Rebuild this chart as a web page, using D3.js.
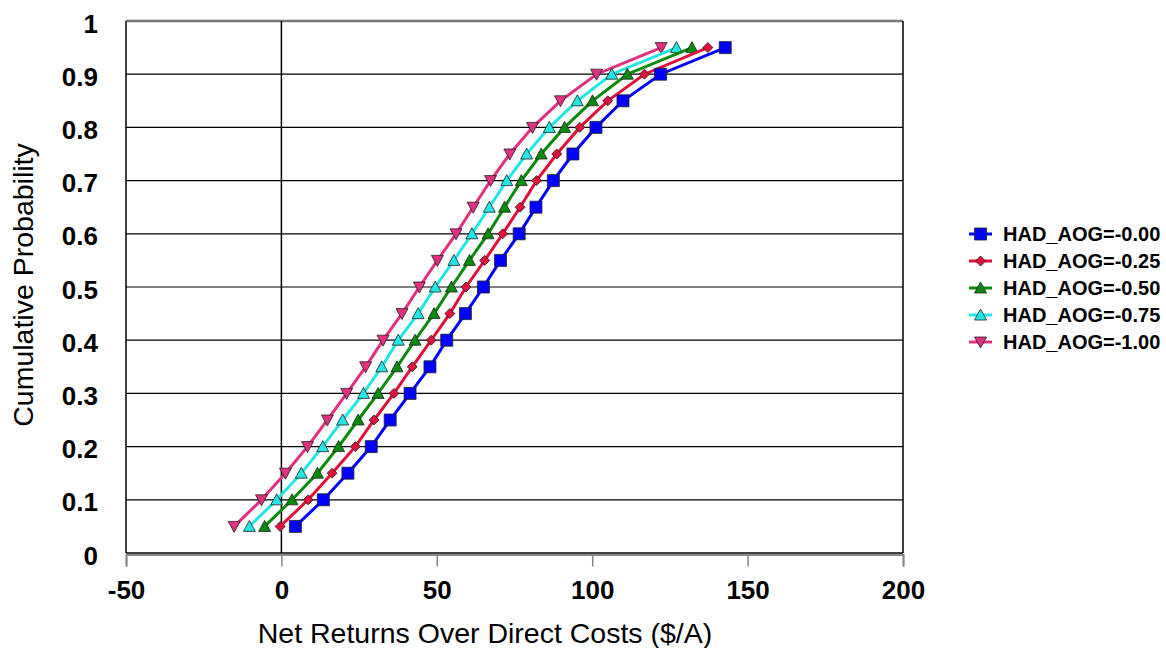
<!DOCTYPE html>
<html>
<head>
<meta charset="utf-8">
<script src="https://cdn.jsdelivr.net/npm/d3@7"></script>
<style>
	body { margin: 0; background: #fff; }
	text { font-family: "Liberation Sans", Arial, sans-serif; }
</style>
</head>
<body>
<div id="chart"></div>
<script>
var probs = [0.05, 0.10, 0.15, 0.20, 0.25, 0.30, 0.35, 0.40, 0.45, 0.50,
	0.55, 0.60, 0.65, 0.70, 0.75, 0.80, 0.85, 0.90, 0.95];

var had000 = [4.5, 13.5, 21.4, 28.9, 35.0, 41.4, 47.8, 53.2, 59.2, 65.0,
	70.5, 76.5, 81.9, 87.5, 93.8, 101.2, 109.9, 122.0, 142.8];
var had025 = [-0.4, 8.6, 16.3, 23.8, 29.8, 36.2, 42.1, 48.2, 54.2, 59.4,
	65.4, 71.2, 76.8, 82.1, 88.6, 96.0, 105.0, 116.8, 137.2];
var had050 = [-5.4, 3.4, 11.6, 18.4, 24.7, 31.1, 37.2, 43.0, 49.1, 54.7,
	60.5, 66.5, 71.8, 77.2, 83.6, 91.1, 100.1, 111.3, 132.1];
var had075 = [-10.3, -1.5, 6.4, 13.3, 19.7, 26.4, 32.3, 37.6, 44.0, 49.5,
	55.5, 61.3, 66.9, 72.5, 78.9, 86.2, 95.2, 106.3, 127.1];
var had100 = [-15.2, -6.4, 1.3, 8.4, 14.8, 21.0, 27.1, 32.7, 38.8, 44.4,
	50.2, 56.2, 61.7, 67.3, 73.5, 80.8, 89.8, 101.4, 122.2];

var seriesNames = ["HAD_AOG=-0.00", "HAD_AOG=-0.25", "HAD_AOG=-0.50", "HAD_AOG=-0.75", "HAD_AOG=-1.00"];
var seriesValues = [had000, had025, had050, had075, had100];
var seriesColors = ["#0000ff", "#e0103c", "#0a8a0a", "#22e6e6", "#e0307f"];
var seriesMarkers = ["square", "diamond", "up", "up", "down"];

var xTicks = [-50, 0, 50, 100, 150, 200];
var yTicks = [0, 0.1, 0.2, 0.3, 0.4, 0.5, 0.6, 0.7, 0.8, 0.9, 1];

var width = 1166, height = 648;
var plot = {left: 126, right: 903, top: 21, bottom: 553};

var x = d3.scaleLinear().domain([-50, 200]).range([plot.left, plot.right]);
var y = d3.scaleLinear().domain([0, 1]).range([plot.bottom, plot.top]);

var svg = d3.select("#chart").append("svg")
	.attr("width", width)
	.attr("height", height);

// horizontal grid
svg.append("g").selectAll("line")
	.data(yTicks.slice(1, -1))
	.enter().append("line")
	.attr("x1", plot.left).attr("x2", plot.right)
	.attr("y1", function(d) { return y(d); })
	.attr("y2", function(d) { return y(d); })
	.attr("stroke", "#000").attr("stroke-width", 1.2);

// frame
svg.append("line")
	.attr("x1", plot.left).attr("x2", plot.right)
	.attr("y1", plot.top).attr("y2", plot.top)
	.attr("stroke", "#777").attr("stroke-width", 2.5);
svg.append("line")
	.attr("x1", plot.left).attr("x2", plot.left)
	.attr("y1", plot.top).attr("y2", plot.bottom)
	.attr("stroke", "#000").attr("stroke-width", 1.5);
svg.append("line")
	.attr("x1", plot.right).attr("x2", plot.right)
	.attr("y1", plot.top).attr("y2", plot.bottom)
	.attr("stroke", "#000").attr("stroke-width", 1.5);

// zero line
svg.append("line")
	.attr("x1", x(0)).attr("x2", x(0))
	.attr("y1", plot.top).attr("y2", plot.bottom)
	.attr("stroke", "#000").attr("stroke-width", 1.5);

// x axis
var xAxis = d3.axisBottom(x)
	.tickValues(xTicks)
	.tickSize(12)
	.tickFormat(function(d) { return String(d); });
var xg = svg.append("g")
	.attr("transform", "translate(0," + (plot.bottom + 1.5) + ")")
	.call(xAxis);
xg.select(".domain").attr("stroke", "#888").attr("stroke-width", 2);
xg.selectAll(".tick line").attr("stroke", "#888").attr("stroke-width", 1.5);
xg.selectAll(".tick text")
	.attr("fill", "#000")
	.attr("y", 44)
	.attr("dy", null)
	.style("font-size", "26px")
	.style("font-weight", "bold");
svg.append("line")
	.attr("x1", plot.left).attr("x2", plot.right)
	.attr("y1", plot.bottom).attr("y2", plot.bottom)
	.attr("stroke", "#000").attr("stroke-width", 1.5);

// y axis labels
svg.append("g").selectAll("text")
	.data(yTicks)
	.enter().append("text")
	.attr("x", 98)
	.attr("y", function(d) { return y(d) + 11.5; })
	.attr("text-anchor", "end")
	.style("font-size", "26px")
	.style("font-weight", "bold")
	.text(function(d) { return d === 0 || d === 1 ? d : d.toFixed(1); });

// axis titles
svg.append("text")
	.attr("x", 485)
	.attr("y", 643)
	.attr("text-anchor", "middle")
	.style("font-size", "28.5px")
	.text("Net Returns Over Direct Costs ($/A)");
svg.append("text")
	.attr("transform", "translate(33,285) rotate(-90)")
	.attr("text-anchor", "middle")
	.style("font-size", "28.5px")
	.text("Cumulative Probability");

function markerPath(type) {
	switch (type) {
		case "square":
			return "M-6,-6H6V6H-6Z";
		case "diamond":
			return "M0,-5L5,0L0,5L-5,0Z";
		case "up":
			return "M0,-6L6,5H-6Z";
		case "down":
			return "M0,6L6,-5H-6Z";
		default:
			return "";
	}
}

var line = d3.line()
	.x(function(d) { return x(d[0]); })
	.y(function(d) { return y(d[1]); });

for (var i = seriesValues.length - 1; i >= 0; i--) {
	var pts = seriesValues[i].map(function(v, j) { return [v, probs[j]]; });
	var g = svg.append("g");
	g.append("path")
		.datum(pts)
		.attr("d", line)
		.attr("fill", "none")
		.attr("stroke", seriesColors[i])
		.attr("stroke-width", 3);
	g.selectAll("path.mark")
		.data(pts)
		.enter().append("path")
		.attr("class", "mark")
		.attr("transform", function(d) { return "translate(" + x(d[0]) + "," + y(d[1]) + ")"; })
		.attr("d", markerPath(seriesMarkers[i]))
		.attr("fill", seriesColors[i])
		.attr("stroke", "#222")
		.attr("stroke-width", 0.8);
}

// legend
var legend = svg.append("g");
seriesNames.forEach(function(name, i) {
	var ly = 234 + i * 27;
	legend.append("line")
		.attr("x1", 969).attr("x2", 992)
		.attr("y1", ly).attr("y2", ly)
		.attr("stroke", seriesColors[i]).attr("stroke-width", 3);
	legend.append("path")
		.attr("transform", "translate(980.5," + ly + ")")
		.attr("d", markerPath(seriesMarkers[i]))
		.attr("fill", seriesColors[i])
		.attr("stroke", "#222")
		.attr("stroke-width", 0.8);
	legend.append("text")
		.attr("x", 1003)
		.attr("y", ly + 7)
		.style("font-size", "20px")
		.style("font-weight", "bold")
		.text(name);
});
</script>
</body>
</html>
